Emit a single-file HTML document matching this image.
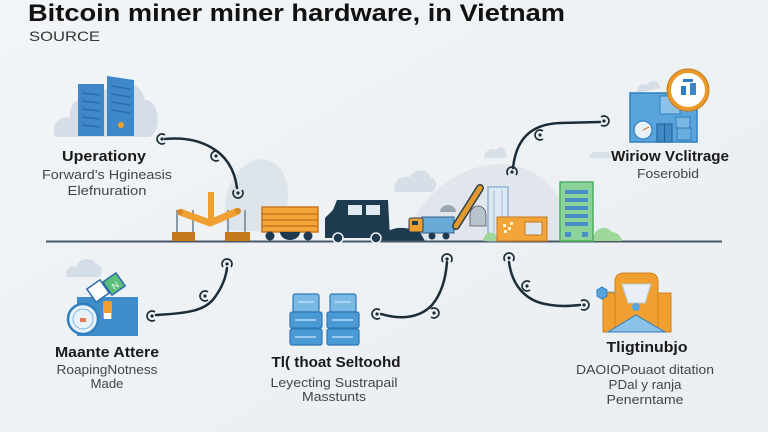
<!DOCTYPE html>
<html><head><meta charset="utf-8"><style>
html,body{margin:0;padding:0;width:768px;height:432px;overflow:hidden;background:#eef2f5;}
svg{display:block;}
text{font-family:"Liberation Sans",Arial,sans-serif;}
</style></head><body>
<svg width="768" height="432" viewBox="0 0 768 432" xmlns="http://www.w3.org/2000/svg">
<defs>
<linearGradient id="bg" x1="0" y1="0" x2="1" y2="1">
<stop offset="0" stop-color="#f2f5f7"/><stop offset="1" stop-color="#e9eef2"/>
</linearGradient>
<g id="sym"><path d="M3,-4 A5,5 0 1 0 3,4" stroke="#1c2d38" stroke-width="1.7" fill="none"/><circle r="1.6" fill="#1c2d38"/></g>
</defs>
<rect width="768" height="432" fill="url(#bg)"/>

<!-- Title -->
<text x="28" y="21" font-size="24" font-weight="bold" fill="#111" textLength="537" lengthAdjust="spacingAndGlyphs">Bitcoin miner miner hardware, in Vietnam</text>
<text x="29" y="41" font-size="14" fill="#333" textLength="71" lengthAdjust="spacingAndGlyphs">SOURCE</text>

<!-- background hills/clouds -->
<path d="M400,241 C420,200 450,170 490,165 C520,160 545,175 560,200 L580,241 Z" fill="#e0e6eb"/>
<path d="M227,230 C220,200 230,170 255,160 C280,155 292,180 287,205 C285,220 280,230 270,232 Z" fill="#dde4ea"/>
<path d="M395,192 C392,182 400,175 410,177 C414,168 428,168 431,178 C438,178 438,192 430,192 Z" fill="#d6dfe7"/>
<path d="M484,158 C484,150 492,147 496,150 C500,144 508,148 506,158 Z" fill="#d9e1e8"/>
<path d="M589,158 C590,152 597,150 601,153 C605,149 612,153 611,158 Z" fill="#d9e1e8"/>
<path d="M380,241 C385,228 400,224 420,232 L425,241 Z" fill="#1e3a4e"/>

<!-- ground line -->
<line x1="46" y1="241.5" x2="722" y2="241.5" stroke="#4a5866" stroke-width="2"/>

<!-- Top-left icon -->
<path d="M55,137 C50,125 60,115 70,118 C68,100 85,92 98,100 C105,78 140,75 145,100 C160,100 162,130 150,137 Z" fill="#d5dee6"/>
<rect x="78" y="84" width="26" height="52" fill="#3e87c9"/>
<path d="M107,76 L134,80 L134,136 L107,136 Z" fill="#3e87c9"/>
<g stroke="#2a6aa6" stroke-width="1.3">
<line x1="82" y1="93" x2="100" y2="95"/><line x1="82" y1="101" x2="100" y2="103"/><line x1="82" y1="109" x2="100" y2="111"/><line x1="82" y1="117" x2="100" y2="119"/><line x1="82" y1="125" x2="100" y2="127"/>
<line x1="111" y1="86" x2="130" y2="89"/><line x1="111" y1="94" x2="130" y2="97"/><line x1="111" y1="102" x2="130" y2="105"/><line x1="111" y1="110" x2="130" y2="113"/>
</g>
<circle cx="121" cy="125" r="3" fill="#f0a030"/>

<text x="104" y="161" font-size="15" font-weight="bold" fill="#1a1a1a" text-anchor="middle" textLength="84" lengthAdjust="spacingAndGlyphs">Uperationy</text>
<text x="107" y="179" font-size="13" fill="#444" text-anchor="middle" textLength="130" lengthAdjust="spacingAndGlyphs">Forward's Hgineasis</text>
<text x="107" y="195" font-size="13" fill="#444" text-anchor="middle" textLength="79" lengthAdjust="spacingAndGlyphs">Elefnuration</text>

<!-- Top-right icon -->
<path d="M637,93 C636,86 642,82 647,85 C650,79 660,80 660,88 Z" fill="#d5dee6"/>
<rect x="630" y="93" width="67" height="49" fill="#5aa4dc" stroke="#2f7fc0" stroke-width="1.5"/>
<rect x="660" y="96" width="20" height="18" fill="#8cc2e8" stroke="#2f7fc0" stroke-width="1"/>
<path d="M676,117 L690,117 L690,125 A7,7 0 0 1 676,125 Z" fill="#7ab6e2" stroke="#2f7fc0" stroke-width="1"/>
<circle cx="643" cy="130" r="9" fill="#e8f1f8" stroke="#2f7fc0" stroke-width="1.2"/>
<line x1="643" y1="130" x2="649" y2="127" stroke="#d07a20" stroke-width="1"/>
<rect x="657" y="124" width="15" height="18" fill="#3f8ac6" stroke="#1f5f98" stroke-width="1"/>
<line x1="664.5" y1="124" x2="664.5" y2="142" stroke="#1f5f98" stroke-width="1"/>
<rect x="677" y="128" width="14" height="12" fill="#6aaee0" stroke="#2f7fc0" stroke-width="1"/>
<circle cx="688" cy="90" r="19" fill="#fff" stroke="#e89a2a" stroke-width="4"/>
<circle cx="688" cy="90" r="21" fill="none" stroke="#c9781c" stroke-width="1"/>
<rect x="681" y="86" width="5" height="9" fill="#2f7fc0"/><rect x="690" y="83" width="6" height="12" fill="#3e87c9"/>
<rect x="683" y="79" width="10" height="3" fill="#2f7fc0"/>

<text x="670" y="161" font-size="15" font-weight="bold" fill="#1a1a1a" text-anchor="middle" textLength="118" lengthAdjust="spacingAndGlyphs">Wiriow Vclitrage</text>
<text x="668" y="178" font-size="13" fill="#444" text-anchor="middle" textLength="62" lengthAdjust="spacingAndGlyphs">Foserobid</text>

<!-- Bottom-left icon -->
<path d="M67,277 C64,270 70,265 76,267 C78,258 92,256 96,264 C102,264 104,275 98,277 Z" fill="#d5dee6"/>
<rect x="77" y="297" width="61" height="39" fill="#3f8ccb"/>
<g transform="rotate(-35 98 291)"><rect x="90" y="283" width="16" height="16" fill="#fff" stroke="#2a6aa6" stroke-width="1.5"/></g>
<g transform="rotate(-35 114 284)"><rect x="106" y="276" width="16" height="16" fill="#5bbf78" stroke="#2a6aa6" stroke-width="1.5"/><text x="111" y="289" font-size="9" fill="#fff">N</text></g>
<rect x="103" y="301" width="9" height="18" rx="2" fill="#f0a030"/>
<rect x="104" y="313" width="7" height="6" fill="#fff"/>
<circle cx="83" cy="319" r="15" fill="#e9f2f8" stroke="#2f7fc0" stroke-width="2.5"/>
<circle cx="83" cy="319" r="10" fill="none" stroke="#7ab6e2" stroke-width="1"/>
<rect x="80" y="318" width="6" height="4" fill="#e07a5a"/>

<text x="107" y="357" font-size="15" font-weight="bold" fill="#1a1a1a" text-anchor="middle" textLength="104" lengthAdjust="spacingAndGlyphs">Maante Attere</text>
<text x="107" y="374" font-size="13" fill="#444" text-anchor="middle" textLength="101" lengthAdjust="spacingAndGlyphs">RoapingNotness</text>
<text x="107" y="388" font-size="13" fill="#444" text-anchor="middle" textLength="33" lengthAdjust="spacingAndGlyphs">Made</text>

<!-- Bottom-middle servers -->
<g stroke="#2f78b8" stroke-width="1.2">
<rect x="293" y="294" width="26" height="18" rx="2" fill="#7ab8e6"/>
<rect x="290" y="312" width="32" height="16" rx="2" fill="#4a9ad6"/>
<rect x="290" y="329" width="32" height="16" rx="2" fill="#4a9ad6"/>
<rect x="330" y="294" width="26" height="18" rx="2" fill="#7ab8e6"/>
<rect x="327" y="312" width="32" height="16" rx="2" fill="#4a9ad6"/>
<rect x="327" y="329" width="32" height="16" rx="2" fill="#4a9ad6"/>
</g>
<g stroke="#cfe6f6" stroke-width="1.2">
<line x1="295" y1="320" x2="316" y2="320"/><line x1="295" y1="337" x2="316" y2="337"/>
<line x1="332" y1="320" x2="353" y2="320"/><line x1="332" y1="337" x2="353" y2="337"/>
<line x1="298" y1="302" x2="314" y2="302"/><line x1="335" y1="302" x2="351" y2="302"/>
</g>

<text x="336" y="367" font-size="15" font-weight="bold" fill="#1a1a1a" text-anchor="middle" textLength="129" lengthAdjust="spacingAndGlyphs">Tl( thoat Seltoohd</text>
<text x="334" y="387" font-size="13" fill="#444" text-anchor="middle" textLength="127" lengthAdjust="spacingAndGlyphs">Leyecting Sustrapail</text>
<text x="334" y="401" font-size="13" fill="#444" text-anchor="middle" textLength="64" lengthAdjust="spacingAndGlyphs">Masstunts</text>

<!-- Bottom-right icon -->
<rect x="603" y="293" width="14" height="39" fill="#f0a030" stroke="#d0801e" stroke-width="1"/>
<rect x="657" y="293" width="14" height="39" fill="#f0a030" stroke="#d0801e" stroke-width="1"/>
<path d="M615,332 L615,282 Q615,273 624,273 L649,273 Q658,273 658,282 L658,332 Z" fill="#f0a030" stroke="#d0801e" stroke-width="1"/>
<path d="M622,284 L651,284 L645,303 L628,303 Z" fill="#e9eff4" stroke="#b9c8d4" stroke-width="1"/>
<circle cx="636" cy="307" r="4" fill="#5aa4dc"/>
<path d="M608,332 L636,315 L665,332 Z" fill="#8cc2e8" stroke="#2f7fc0" stroke-width="1"/>
<polygon points="602,287 607,290 607,296 602,299 597,296 597,290" fill="#5aa4dc" stroke="#2f7fc0" stroke-width="1"/>
<line x1="607" y1="292" x2="617" y2="292" stroke="#8aa" stroke-width="1"/>

<text x="647" y="352" font-size="15" font-weight="bold" fill="#1a1a1a" text-anchor="middle" textLength="81" lengthAdjust="spacingAndGlyphs">Tligtinubjo</text>
<text x="645" y="374" font-size="13" fill="#444" text-anchor="middle" textLength="138" lengthAdjust="spacingAndGlyphs">DAOIOPouaot ditation</text>
<text x="645" y="389" font-size="13" fill="#444" text-anchor="middle" textLength="73" lengthAdjust="spacingAndGlyphs">PDal y ranja</text>
<text x="645" y="404" font-size="13" fill="#444" text-anchor="middle" textLength="77" lengthAdjust="spacingAndGlyphs">Penerntame</text>

<!-- Central scene -->
<!-- pump -->
<g stroke="#8a9aa6" stroke-width="2"><line x1="177" y1="210" x2="177" y2="232"/><line x1="193" y1="210" x2="193" y2="232"/><line x1="228" y1="210" x2="228" y2="232"/><line x1="245" y1="210" x2="245" y2="232"/></g>
<rect x="172" y="232" width="23" height="9" fill="#c6781c"/>
<rect x="225" y="232" width="25" height="9" fill="#c6781c"/>
<path d="M180,212 L210,223 L238,211" stroke="#f0a030" stroke-width="7" fill="none" stroke-linejoin="round"/>
<line x1="211" y1="192" x2="211" y2="223" stroke="#f0a030" stroke-width="6"/>
<circle cx="180" cy="212" r="3" fill="#d98a22"/><circle cx="238" cy="211" r="3" fill="#d98a22"/>
<!-- cart -->
<rect x="262" y="207" width="56" height="25" fill="#f4a53a" stroke="#c6781c" stroke-width="1.5"/>
<g stroke="#c6781c" stroke-width="1.5"><line x1="262" y1="214" x2="318" y2="214"/><line x1="262" y1="220" x2="318" y2="220"/><line x1="262" y1="226" x2="318" y2="226"/></g>
<path d="M280,232 A10,8 0 0 0 300,232 Z" fill="#1e3a4e"/>
<circle cx="270" cy="236" r="4.5" fill="#1e3a4e"/><circle cx="308" cy="236" r="4.5" fill="#1e3a4e"/>
<!-- van -->
<path d="M325,228 L325,218 L333,210 L337,200 L388,200 L390,238 L325,238 Z" fill="#1d3a4e"/>
<rect x="348" y="205" width="14" height="10" fill="#dfe8ee"/><rect x="366" y="205" width="14" height="10" fill="#dfe8ee"/>
<circle cx="338" cy="238" r="5" fill="#1d3a4e" stroke="#eef2f5" stroke-width="1.5"/><circle cx="376" cy="238" r="5" fill="#1d3a4e" stroke="#eef2f5" stroke-width="1.5"/>
<!-- blue truck + crane -->
<rect x="422" y="217" width="32" height="16" fill="#6aaad8" stroke="#2f5f88" stroke-width="1"/>
<rect x="409" y="218" width="14" height="14" rx="2" fill="#f0a030" stroke="#2f3f4a" stroke-width="1"/>
<rect x="412" y="221" width="6" height="4" fill="#1e3a4e"/>
<path d="M440,212 A8,7 0 0 1 456,212 Z" fill="#9aa6b0"/>
<path d="M470,215 A8,9 0 0 1 486,215 L486,226 L470,226 Z" fill="#b8c2ca" stroke="#556" stroke-width="0.8"/>
<line x1="456" y1="226" x2="480" y2="188" stroke="#2f3f4a" stroke-width="8" stroke-linecap="round"/>
<line x1="456" y1="226" x2="480" y2="188" stroke="#e09a30" stroke-width="5" stroke-linecap="round"/>
<circle cx="414" cy="236" r="3.5" fill="#1e3a4e"/><circle cx="432" cy="236" r="3.5" fill="#1e3a4e"/><circle cx="446" cy="236" r="3.5" fill="#1e3a4e"/>
<!-- light blue building -->
<rect x="488" y="187" width="20" height="54" fill="#dde9f2" stroke="#7ea8cc" stroke-width="1.2"/>
<g stroke="#9dbdd8" stroke-width="1"><line x1="494" y1="190" x2="494" y2="240"/><line x1="502" y1="190" x2="502" y2="240"/></g>
<!-- bushes -->
<path d="M483,241 C484,232 492,230 497,236 L497,241 Z" fill="#9fd69a"/>
<path d="M592,241 C594,228 605,224 612,232 C618,232 622,238 622,241 Z" fill="#9fd69a"/>
<!-- orange truck -->
<rect x="497" y="217" width="50" height="24" fill="#f4a53a" stroke="#c6781c" stroke-width="1"/>
<rect x="525" y="222" width="17" height="13" fill="#dfe8ee" stroke="#c6781c" stroke-width="1"/>
<g fill="#fff3d6"><rect x="503" y="224" width="3" height="3"/><rect x="508" y="227" width="3" height="3"/><rect x="504" y="230" width="3" height="3"/><rect x="510" y="222" width="3" height="3"/></g>
<!-- green building -->
<rect x="560" y="182" width="33" height="59" fill="#8bd39a" stroke="#4caf60" stroke-width="1.5"/>
<g fill="#4a8ec8"><rect x="565" y="190" width="23" height="4"/><rect x="565" y="198" width="23" height="4"/><rect x="565" y="206" width="23" height="4"/><rect x="565" y="214" width="23" height="4"/><rect x="565" y="222" width="23" height="4"/><rect x="565" y="232" width="6" height="5"/><rect x="582" y="232" width="6" height="5"/></g>

<!-- Connectors -->
<g stroke="#1c2d38" stroke-width="2.5" fill="none" stroke-linecap="round">
<path d="M165,139 C197,136 232,148 237,188"/>
<path d="M513,168 C516,140 530,124 560,123 L600,122"/>
<path d="M156,315 C185,313 205,312 215,297 C223,286 226,276 227,268"/>
<path d="M381,314 C400,320 420,318 432,305 C443,292 446,275 447,262"/>
<path d="M509,262 C512,285 525,300 545,304 C560,307 570,306 580,305"/>
</g>
<use href="#sym" transform="translate(162,139)"/>
<use href="#sym" transform="translate(216,156)"/>
<use href="#sym" transform="translate(238,193) rotate(-90)"/>
<use href="#sym" transform="translate(512,172) rotate(90)"/>
<use href="#sym" transform="translate(540,135)"/>
<use href="#sym" transform="translate(604,121) rotate(180)"/>
<use href="#sym" transform="translate(152,316)"/>
<use href="#sym" transform="translate(205,296)"/>
<use href="#sym" transform="translate(227,264) rotate(90)"/>
<use href="#sym" transform="translate(377,314)"/>
<use href="#sym" transform="translate(434,313) rotate(180)"/>
<use href="#sym" transform="translate(447,259) rotate(90)"/>
<use href="#sym" transform="translate(509,258) rotate(90)"/>
<use href="#sym" transform="translate(527,286)"/>
<use href="#sym" transform="translate(584,305) rotate(180)"/>
</svg>
</body></html>
